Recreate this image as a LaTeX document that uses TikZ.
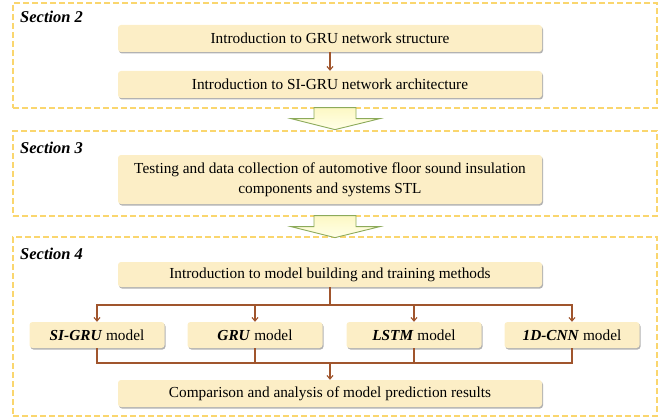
\documentclass[tikz,border=0pt]{standalone}
\usepackage{fontspec}
\setmainfont{Liberation Serif}
\usetikzlibrary{shadows,arrows.meta}
\definecolor{frameC}{RGB}{250,214,110}
\definecolor{boxC}{RGB}{252,238,198}
\definecolor{connC}{RGB}{160,85,45}
\definecolor{bigD}{RGB}{140,170,90}
\definecolor{bigT}{RGB}{253,248,196}
\definecolor{bigB}{RGB}{255,255,232}
\tikzset{
  secframe/.style={draw=frameC, line width=1.2pt, dash pattern=on 6pt off 3pt, rectangle, inner sep=0pt},
  seclabel/.style={anchor=west, inner sep=0pt, font=\fontsize{16.5}{19}\selectfont\bfseries\itshape},
  boxnode/.style={rectangle, rounded corners=3pt, fill=boxC, inner sep=0pt,
    drop shadow={shadow xshift=1pt, shadow yshift=-1.5pt, fill=black, opacity=0.3},
    font=\fontsize{15.3}{20}\selectfont, align=center},
  widebox/.style={boxnode, minimum width=424pt, minimum height=27pt},
  modelbox/.style={boxnode, minimum width=135pt, minimum height=26pt},
  conn/.style={draw=connC, line width=1.1pt},
  connarrow/.style={conn, -{Straight Barb[length=3.5pt,width=6pt]}},
  bigarrow/.style={draw=bigD, line width=0.9pt, top color=bigT, bottom color=bigB, line join=miter}
}
\begin{document}
\begin{tikzpicture}[x=1pt,y=-1pt]
\useasboundingbox (0,0) rectangle (663,417);
% Section frames
\node[secframe, minimum width=644pt, minimum height=105pt] (s2) at (335,55.5) {};
\node[secframe, minimum width=644pt, minimum height=85pt] (s3) at (335,173.5) {};
\node[secframe, minimum width=644pt, minimum height=179pt] (s4) at (335,326.5) {};
\node[seclabel] (l2) at (20,17) {Section 2};
\node[seclabel] (l3) at (20,148) {Section 3};
\node[seclabel] (l4) at (20,254) {Section 4};
% Section 2
\node[widebox] (b1) at (330,38.5) {Introduction to GRU network structure};
\node[widebox] (b2) at (330,84.5) {Introduction to SI-GRU network architecture};
\draw[connarrow] (b1.south) -- (b2.north);
% Section 3
\node[widebox, minimum height=49pt] (b3) at (330,179.5) {Testing and data collection of automotive floor sound insulation\\components and systems STL};
% Section 4
\node[widebox, minimum height=25pt] (i4) at (330,274.5) {Introduction to model building and training methods};
\node[modelbox] (m1) at (97,335) {\textbf{\textit{SI-GRU}} model};
\node[modelbox] (m2) at (255,335) {\textbf{\textit{GRU}} model};
\node[modelbox] (m3) at (414,335) {\textbf{\textit{LSTM}} model};
\node[modelbox] (m4) at (572,335) {\textbf{\textit{1D-CNN}} model};
\node[widebox] (cmp) at (330,393.5) {Comparison and analysis of model prediction results};
\coordinate (bus1) at (330,305);
\coordinate (bus2) at (330,363);
\draw[conn] (i4.south) -- (bus1);
\foreach \m in {m1,m2,m3,m4}{
  \draw[connarrow] (bus1) -| (\m.north);
  \draw[conn] (\m.south) |- (bus2);
}
\draw[connarrow] (bus2) -- (cmp.north);
% Big arrows between sections
\foreach \a/\b in {s2/s3, s3/s4}{
  \path (\a.south) ++(0,-1) coordinate (top\a);
  \draw[bigarrow] (top\a) ++(-21,0) -- ++(0,11) -- ++(-23,0) -- ++(44,11) -- ++(45,-11) -- ++(-24,0) -- ++(0,-11) -- cycle;
}
\end{tikzpicture}
\end{document}
